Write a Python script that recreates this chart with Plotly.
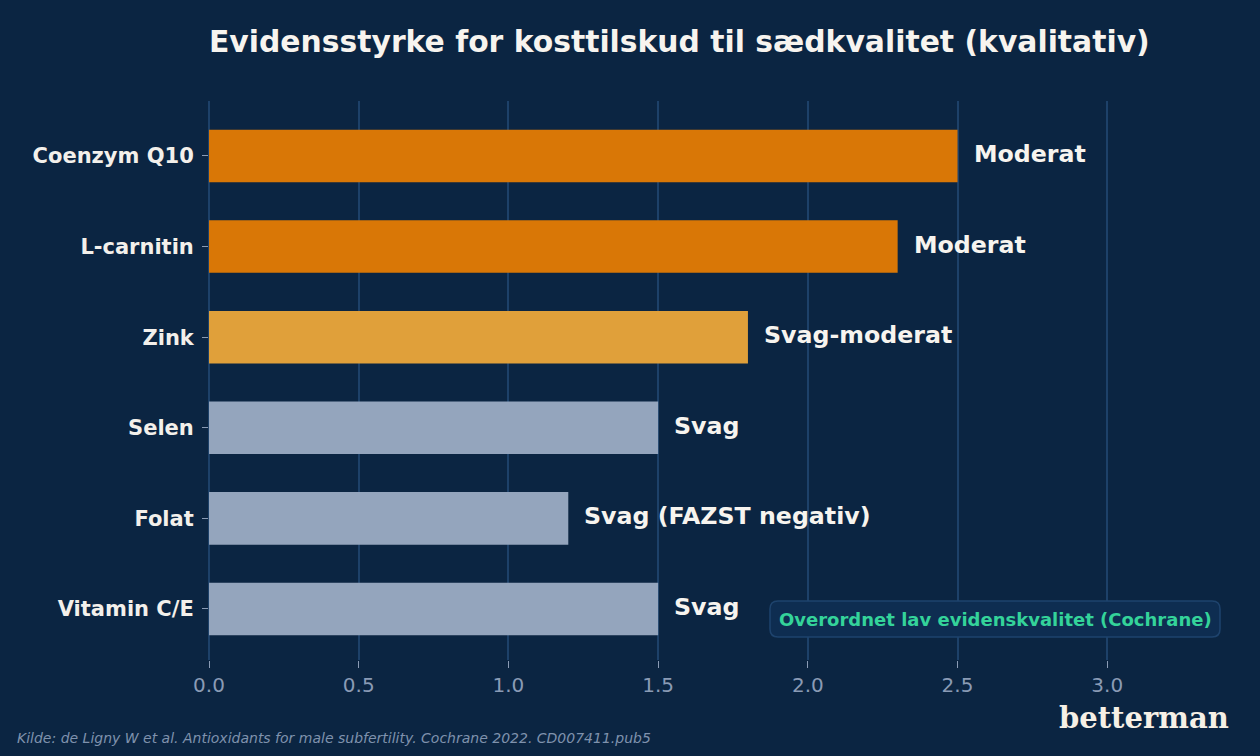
import plotly.graph_objects as go

categories = ["Coenzym Q10", "L-carnitin", "Zink", "Selen", "Folat", "Vitamin C/E"]
scores = [2.5, 2.3, 1.8, 1.5, 1.2, 1.5]
labels = ["Moderat", "Moderat", "Svag-moderat", "Svag", "Svag (FAZST negativ)", "Svag"]
colors = ["#d97706", "#d97706", "#e0a03a", "#94a5bd", "#94a5bd", "#94a5bd"]
x_ticks = [0.0, 0.5, 1.0, 1.5, 2.0, 2.5, 3.0]
x_tick_text = ["0.0", "0.5", "1.0", "1.5", "2.0", "2.5", "3.0"]

BG = "#0b2542"
FONT = "DejaVu Sans"
W, H = 1260, 756
ML, MR, MT, MB = 209, 33, 101, 96
PW, PH = W - ML - MR, H - MT - MB


def px(x):
    return (x - ML) / PW


def py(y):
    return (H - MB - y) / PH


fig = go.Figure()
fig.add_trace(go.Bar(
    y=categories, x=scores, orientation="h",
    marker=dict(color=colors, line=dict(width=0)),
    width=0.58, hoverinfo="skip",
))

for cat, s, lab in zip(categories, scores, labels):
    fig.add_annotation(
        x=s, y=cat, xref="x", yref="y", text=lab, showarrow=False,
        xanchor="left", yanchor="middle", xshift=14, yshift=2,
        font=dict(family=FONT, size=23.7, color="#f7f4ef", weight="bold"),
    )

fig.update_layout(
    width=W, height=H,
    paper_bgcolor=BG, plot_bgcolor=BG,
    margin=dict(l=ML, r=MR, t=MT, b=MB),
    showlegend=False,
    xaxis=dict(
        range=[0, 3.4], tickvals=x_ticks, ticktext=x_tick_text,
        showgrid=True, gridcolor="#1d4169", gridwidth=1.5,
        zeroline=True, zerolinecolor="#1d4169", zerolinewidth=1.5,
        showline=False, ticks="outside", ticklen=7, tickcolor="#8a9bb5",
        tickfont=dict(family=FONT, size=20, color="#8a9bb5"),
    ),
    yaxis=dict(
        categoryorder="array", categoryarray=categories,
        autorange=False, range=[5.563, -0.607],
        showgrid=False, zeroline=False, showline=False,
        ticks="outside", ticklen=6, tickcolor="#8a9bb5",
        ticklabelstandoff=4,
        tickfont=dict(family=FONT, size=21, color="#f3f0eb", weight="bold"),
    ),
    title=dict(
        text="Evidensstyrke for kosttilskud til sædkvalitet (kvalitativ)",
        x=209 / W, xanchor="left", xref="container",
        y=1 - 42 / H, yanchor="middle", yref="container",
        font=dict(family=FONT, size=29.8, color="#f7f4ef", weight="bold"),
    ),
)

# rounded box for the note
x0, x1, y0, y1 = px(770), px(1220), py(637), py(601)
r = 8 / PW
ry = 8 / PH
path = (f"M {x0 + r},{y0} L {x1 - r},{y0} Q {x1},{y0} {x1},{y0 + ry} "
        f"L {x1},{y1 - ry} Q {x1},{y1} {x1 - r},{y1} L {x0 + r},{y1} "
        f"Q {x0},{y1} {x0},{y1 - ry} L {x0},{y0 + ry} Q {x0},{y0} {x0 + r},{y0} Z")
fig.add_shape(type="path", path=path, xref="paper", yref="paper",
              fillcolor="#0e2d51", line=dict(color="#1e436d", width=1.5), layer="above")
fig.add_annotation(
    x=(x0 + x1) / 2, y=(y0 + y1) / 2, xref="paper", yref="paper",
    text="Overordnet lav evidenskvalitet (Cochrane)", showarrow=False,
    xanchor="center", yanchor="middle",
    font=dict(family=FONT, size=18, color="#34d39a", weight="bold"),
)

# footer
fig.add_annotation(
    x=px(15), y=py(738), xref="paper", yref="paper",
    text="<i>Kilde: de Ligny W et al. Antioxidants for male subfertility. Cochrane 2022. CD007411.pub5</i>",
    showarrow=False, xanchor="left", yanchor="middle",
    font=dict(family=FONT, size=14, color="#7f92ad"),
)
fig.add_annotation(
    x=px(1231), y=py(718), xref="paper", yref="paper",
    text="<b>betterman</b>", showarrow=False, xanchor="right", yanchor="middle",
    font=dict(family="DejaVu Serif", size=29, color="#f6f0e6"),
)

fig.write_html("out.html")
